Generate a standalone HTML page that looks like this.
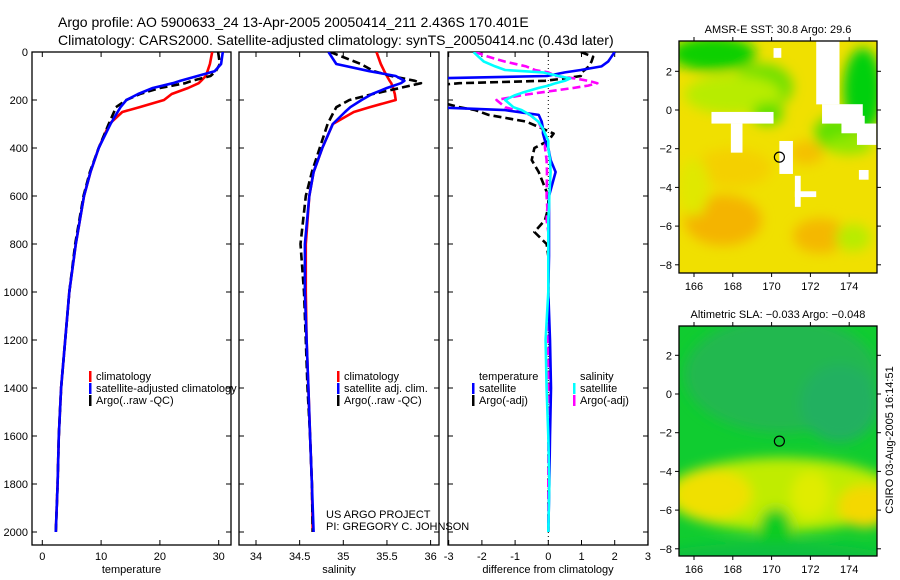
<!DOCTYPE html>
<html><head><meta charset="utf-8"><style>
html,body{margin:0;padding:0;background:#fff;}
svg{display:block;font-family:"Liberation Sans",sans-serif;}
</style></head><body>
<svg id="fig" width="900" height="580" viewBox="0 0 900 580" xmlns="http://www.w3.org/2000/svg">
<defs>
<filter id="blur8" x="-50%" y="-50%" width="200%" height="200%"><feGaussianBlur stdDeviation="6"/></filter>
<clipPath id="c1"><rect x="32" y="52" width="199" height="493"/></clipPath>
<clipPath id="c2"><rect x="239" y="52" width="200" height="493"/></clipPath>
<clipPath id="c3"><rect x="448" y="52" width="200" height="493"/></clipPath>
<clipPath id="m1"><rect x="679" y="41" width="198" height="232"/></clipPath>
<clipPath id="m2"><rect x="679" y="326" width="198" height="230"/></clipPath>
</defs>
<text x="58" y="27" font-size="14">Argo profile: AO 5900633_24 13-Apr-2005 20050414_211 2.436S 170.401E</text>
<text x="58" y="45" font-size="14">Climatology: CARS2000. Satellite-adjusted climatology: synTS_20050414.nc (0.43d later)</text>
<g id="plots"></g>
<text x="326" y="518" font-size="11">US ARGO PROJECT</text>
<text x="326" y="530" font-size="11">PI: GREGORY C. JOHNSON</text>
<text x="893" y="440" font-size="11" text-anchor="middle" transform="rotate(-90 893 440)">CSIRO 03-Aug-2005 16:14:51</text>
</svg>
<script>
const depths=[0,50,80,100,120,130,150,175,200,230,250,300,400,500,600,800,1000,1200,1400,1600,1800,2000];
const tempClim=[28.9,28.5,28.1,27.8,27.0,26.6,24.8,22.0,20.7,16.5,13.6,11.4,9.6,8.2,7.1,5.7,4.6,3.9,3.2,2.8,2.6,2.3];
const tempSat=[30.7,30.4,29.3,26.4,23.5,22.2,18.8,16.3,14.3,13.3,12.8,11.6,9.6,8.2,7.1,5.7,4.6,3.9,3.2,2.8,2.6,2.3];
const tempArgo=[29.9,30.2,29.5,28.6,25.5,24.3,20.0,16.6,14.3,12.5,12.2,11.3,9.6,8.1,7.0,5.6,4.6,3.9,3.2,2.8,2.6,2.3];
const salClim=[35.38,35.43,35.47,35.50,35.53,35.55,35.57,35.59,35.60,35.30,35.12,34.88,34.76,34.66,34.61,34.57,34.57,34.58,34.60,34.62,34.64,34.65];
const salSat=[34.83,34.92,35.30,35.60,35.70,35.66,35.50,35.33,35.21,35.08,35.02,34.88,34.76,34.66,34.61,34.56,34.56,34.58,34.60,34.62,34.64,34.66];
const salArgo=[34.85,35.20,35.35,35.55,35.82,35.89,35.65,35.34,35.07,34.92,34.89,34.82,34.73,34.64,34.57,34.51,34.55,34.57,34.59,34.62,34.64,34.65];
const dDepths=[0,20,40,60,75,85,100,110,120,130,140,150,170,180,200,230,242,262,290,320,340,370,400,450,500,600,650,700,750,800,850,1000,1200,1400,1600,1800,2000];
const dTempSat=[2.0,1.9,1.8,1.6,0.98,0.5,-0.04,-3.5,-3.5,-3.5,-3.5,-3.5,-3.5,-3.5,-3.5,-3.5,-1.3,-0.29,-0.2,-0.16,-0.16,-0.1,0.0,0.07,0.22,0.02,0.02,0.02,0.02,0.02,0.02,0.0,0.05,0.08,0.05,0.03,0.0];
const dTempArgo=[0.98,1.35,1.3,1.22,1.1,1.0,0.98,0.5,-0.1,-2.68,-3.5,-3.5,-3.5,-3.5,-3.5,-2.68,-2.2,-1.8,-0.67,-0.16,0.16,0.0,-0.42,-0.5,-0.29,0.0,0.0,-0.1,-0.42,-0.05,0.0,0.0,0.02,0.02,0.0,0.0,0.0];
const dSalSat=[-2.25,-2.1,-1.94,-1.6,-1.3,-0.16,0.3,0.66,0.5,0.22,0.0,-0.3,-0.79,-1.0,-1.3,-1.05,-0.8,-0.55,-0.3,-0.16,-0.1,0.0,0.0,0.05,0.07,0.03,0.02,0.0,0.0,0.0,0.0,0.0,-0.08,-0.05,0.0,0.03,0.0];
const dSalArgo=[-2.2,-1.8,-1.3,-0.67,-0.4,0.0,0.22,0.8,1.2,1.48,1.2,0.75,-0.3,-0.79,-1.56,-1.3,-1.0,-0.55,-0.3,-0.2,-0.15,-0.1,-0.1,-0.05,-0.04,-0.05,-0.03,-0.05,0.0,0.0,0.0,0.0,0.0,0.0,0.0,0.0,0.0];
const depthTicks=[0,200,400,600,800,1000,1200,1400,1600,1800,2000];
const tempTicks=[0,10,20,30];
const salTicks=[34,34.5,35,35.5,36];
const diffTicks=[-3,-2,-1,0,1,2,3];
const lonTicks=[166,168,170,172,174];
const latTicks=[2,0,-2,-4,-6,-8];
const argoLon=170.401, argoLat=-2.436;

const NS='http://www.w3.org/2000/svg';
const root=document.getElementById('plots');
function mk(tag,attrs,parent){const e=document.createElementNS(NS,tag);for(const k in attrs)e.setAttribute(k,attrs[k]);(parent||root).appendChild(e);return e;}
const yD=d=>52+d*0.24;
const xT=v=>42.3+v*5.88;
const xS=v=>256+(v-34)*87.3;
const xDf=v=>548.3+v*33.2;

function frame(x0,y0,x1,y1,name){
  const r=mk('rect',{x:x0,y:y0,width:x1-x0,height:y1-y0,fill:'none',stroke:'#000','stroke-width':1.3});
  
  
}
function txt(x,y,s,anchor,size,name){
  const t=mk('text',{x:x,y:y,'font-size':size||11,'text-anchor':anchor||'start'});
  t.textContent=s;
  
  
  return t;
}
function line(xs,ds,xf,color,clip,dash,name,w){
  const pts=xs.map((v,i)=>xf(v).toFixed(1)+','+yD(ds[i]).toFixed(1)).join(' ');
  const a={points:pts,fill:'none',stroke:color,'stroke-width':w||2.6,'clip-path':'url(#'+clip+')','stroke-linejoin':'round'};
  if(dash)a['stroke-dasharray']=dash;
  const p=mk('polyline',a);
  
  
}
function profilePanel(x0,x1,xf,ticks,fmt,label,clip,showY,pname){
  frame(x0,52,x1,545,pname+'-frame');
  depthTicks.forEach(d=>{
    mk('line',{x1:x0,x2:x0+5,y1:yD(d),y2:yD(d),stroke:'#000'});
    mk('line',{x1:x1,x2:x1-5,y1:yD(d),y2:yD(d),stroke:'#000'});
    if(showY) txt(x0-4,yD(d)+4,String(d),'end',11,'y-tick-'+d);
  });
  ticks.forEach(v=>{
    const x=xf(v);
    mk('line',{x1:x,x2:x,y1:545,y2:540,stroke:'#000'});
    mk('line',{x1:x,x2:x,y1:52,y2:57,stroke:'#000'});
    txt(x,560,fmt(v),'middle',11,pname+'-x-tick');
  });
  txt((x0+x1)/2,573,label,'middle',11,pname+'-x-axis-title');
}
function legend(x,y,items,pname){
  items.forEach((it,i)=>{
    if(it[0]){const r=mk('rect',{x:x,y:y+i*12-9,width:2.5,height:11,fill:it[0]});
      
      }
    txt(x+7,y+i*12,it[1],'start',11,pname+'-legend-entry');
  });
}
// panel 1
profilePanel(32,231,xT,tempTicks,String,'temperature','c1',true,'temperature-panel');
line(tempClim,depths,xT,'#f00','c1',null,'temp-climatology-line');
line(tempArgo,depths,xT,'#000','c1','8,4','temp-argo-line');
line(tempSat,depths,xT,'#00f','c1',null,'temp-satellite-line');
legend(89,380,[['#f00','climatology'],['#00f','satellite-adjusted climatology'],['#000','Argo(..raw -QC)']],'temperature');
// panel 2
profilePanel(239,439,xS,salTicks,String,'salinity','c2',false,'salinity-panel');
line(salClim,depths,xS,'#f00','c2',null,'sal-climatology-line');
line(salArgo,depths,xS,'#000','c2','8,4','sal-argo-line');
line(salSat,depths,xS,'#00f','c2',null,'sal-satellite-line');
legend(337,380,[['#f00','climatology'],['#00f','satellite adj. clim.'],['#000','Argo(..raw -QC)']],'salinity');
// panel 3
profilePanel(448,648,xDf,diffTicks,String,'difference from climatology','c3',false,'difference-panel');
const zl=mk('line',{x1:xDf(0),x2:xDf(0),y1:52,y2:545,stroke:'#000','stroke-dasharray':'1,3','stroke-width':1});


line(dTempArgo,dDepths,xDf,'#000','c3','8,4','diff-temp-argo-line');
line(dSalArgo,dDepths,xDf,'#f0f','c3','8,4','diff-sal-argo-line');
line(dTempSat,dDepths,xDf,'#00f','c3',null,'diff-temp-satellite-line');
line(dSalSat,dDepths,xDf,'#0ff','c3',null,'diff-sal-satellite-line');
legend(472,380,[[null,'temperature'],['#00f','satellite'],['#000','Argo(-adj)']],'diff-temperature');
legend(573,380,[[null,'salinity'],['#0ff','satellite'],['#f0f','Argo(-adj)']],'diff-salinity');

// maps
function mapPanel(y0,y1,lat0y,clip,title,blobs,whites,name){
  const xL=lon=>694+(lon-166)*19.4;
  const yL=lat=>lat0y-lat*19.35;
  const g=mk('g',{'clip-path':'url(#'+clip+')'});
  
  
  mk('rect',{x:679,y:y0,width:198,height:y1-y0,fill:blobs[0]},g);
  const bg=mk('g',{filter:'url(#blur8)'},g);
  blobs.slice(1).forEach(b=>mk('ellipse',{cx:xL(b[0]),cy:yL(b[1]),rx:b[2]*19.4,ry:b[3]*19.4,fill:b[4]},bg));
  whites.forEach(w=>mk('rect',{x:xL(w[0]),y:yL(w[1]),width:w[2]*19.4,height:w[3]*19.4,fill:'#fff'},g));
  frame(679,y0,877,y1,name+'-frame');
  lonTicks.forEach(l=>{const x=xL(l);mk('line',{x1:x,x2:x,y1:y1,y2:y1+4,stroke:'#000'});mk('line',{x1:x,x2:x,y1:y0,y2:y0-4,stroke:'#000'});txt(x,y1+17,String(l),'middle',11,name+'-lon-tick');});
  latTicks.forEach(l=>{const y=yL(l);mk('line',{x1:679,x2:675,y1:y,y2:y,stroke:'#000'});mk('line',{x1:877,x2:881,y1:y,y2:y,stroke:'#000'});txt(672,y+4,String(l).replace('-','\u2212'),'end',11,name+'-lat-tick');});
  txt(778,y0-8,title,'middle',11,name+'-title');
  const c=mk('circle',{cx:xL(argoLon),cy:yL(argoLat),r:5,fill:'none',stroke:'#000','stroke-width':1.2});
  
  
}
mapPanel(41,273,110,'m1','AMSR-E SST: 30.8 Argo: 29.6',
 ['#f0e000',[167,2.9,2.2,0.9,'#10d000'],[169.5,1.2,1.6,1.2,'#70e000'],[168,0.8,2.5,1,'#b8ec00'],[174.7,1.0,1.0,2.2,'#00d010'],[173.2,-1.2,1.0,0.9,'#60e000'],[174,-1.8,1.2,0.5,'#90e800'],[169.8,-0.2,0.8,0.6,'#60e000'],
  [167.5,-5.7,2,1.3,'#f4b400'],[172.5,-6.5,1.4,0.9,'#f4b800'],[171.8,-2.2,0.9,0.6,'#f4c000'],[168,-3,2,1,'#f4d000'],[174.2,-6.6,0.9,0.7,'#b8ec00'],[166,-4,0.8,1.5,'#e0e800']],
 [[172.3,3.6,1.2,3.3],[172.6,0.3,2.1,1.0],[173.6,-0.3,1.2,0.9],[174.4,-0.7,1.0,1.1],[166.9,-0.1,3.2,0.6],[167.9,-0.7,0.6,1.5],[170.4,-1.6,0.7,1.7],[171.2,-3.4,0.3,1.6],[171.2,-4.2,1.1,0.3],[174.5,-3.1,0.5,0.5],[170.1,3.2,0.4,0.5]],'sst-map');
mapPanel(326,556,394,'m2','Altimetric SLA: \u22120.033 Argo: \u22120.048',
 ['#10cc30',[170.5,1,5,3,'#20b850'],[173.5,-0.5,2,2,'#20b060'],[170.5,-5.2,6,1.9,'#c0ec00'],[167,-5.2,2,1.3,'#f0e000'],[174.8,-5.8,1.4,1.1,'#f4d800'],[172,-5.2,1,1.2,'#e0ec00'],[170.2,-7.2,0.9,1.3,'#10cc20'],[170,-8.5,6,0.8,'#10c040']],
 [],'sla-map');
</script>
</body></html>
